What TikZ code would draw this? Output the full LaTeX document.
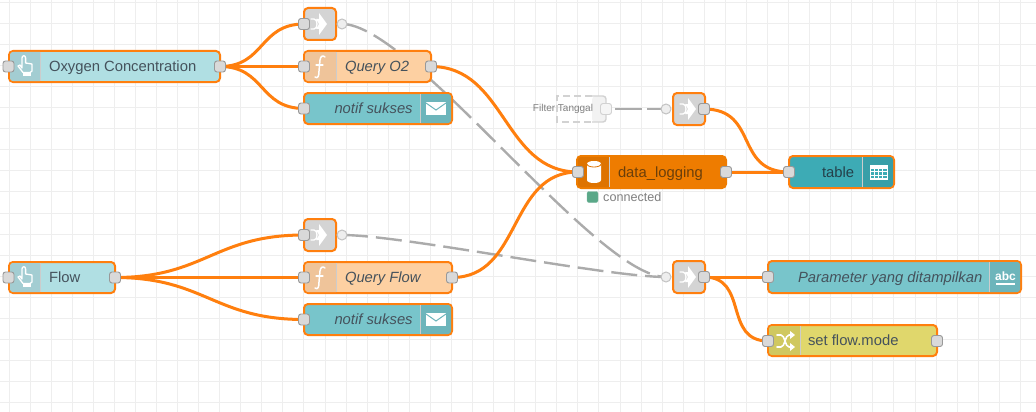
\documentclass[tikz,border=0pt]{standalone}
\usepackage{fontspec}
\setmainfont{Liberation Sans}
\usetikzlibrary{backgrounds}
\definecolor{sel}{HTML}{FF7F0E}
\definecolor{gridc}{HTML}{EEEEEE}
\definecolor{portf}{HTML}{D9D9D9}
\definecolor{portd}{HTML}{999999}
\definecolor{txt}{HTML}{45525C}
\definecolor{btn}{HTML}{B0DFE3}\definecolor{btnd}{HTML}{A3CDD2}
\definecolor{fun}{HTML}{FDD0A2}\definecolor{fund}{HTML}{EFC49A}
\definecolor{noti}{HTML}{78C5CB}\definecolor{notid}{HTML}{6DB5BB}
\definecolor{dbf}{HTML}{EE7C00}\definecolor{dbd}{HTML}{DE7300}
\definecolor{tabf}{HTML}{3DABB5}\definecolor{tabd}{HTML}{389FA8}
\definecolor{setf}{HTML}{E0D76C}\definecolor{setd}{HTML}{D0C860}
\definecolor{lnk}{HTML}{D4D4D4}
\definecolor{statc}{HTML}{5AA888}
\definecolor{dbtxt}{HTML}{6B3F0A}
\definecolor{tbltxt}{HTML}{24404A}
\definecolor{lwc}{HTML}{ABABAB}
\tikzset{
  x=1pt,y=-1pt,
  boxnode/.style={anchor=north west,inner sep=0pt,outer sep=0pt,rounded corners=4pt,draw=sel,line width=2pt,font=\fontsize{14.8}{17}\selectfont,text=txt},
  port/.style={draw=portd,fill=portf,line width=.9pt,rounded corners=2.5pt,minimum size=11pt,inner sep=0pt},
  vport/.style={circle,draw=portd!60,fill=gridc,line width=1pt,minimum size=10pt,inner sep=0pt},
  wire/.style={draw=sel,line width=3pt},
  lwire/.style={draw=lwc,line width=2.4pt,dash pattern=on 26pt off 8pt},
  icon/.style={draw=white,line width=1.3pt,line join=round,line cap=round},
}
% name x1 y1 x2 y2 fill text-offset text
\newcommand\nrbox[8]{%
  \pgfmathsetmacro\nw{#4-#2}\pgfmathsetmacro\nh{#5-#3}%
  \node[boxnode,fill=#6,minimum height=\nh pt] (#1) at (#2,#3)
    {\makebox[\nw pt][l]{\hspace{#7pt}\rule[-4pt]{0pt}{18pt}#8}};}
\newcommand\bandL[5]{%
  \fill[#5] (#3,#2) [rounded corners=3pt] -- (#1,#2) -- (#1,#4) [sharp corners] -- (#3,#4) -- cycle;
  \draw[black!20,line width=.5pt] (#3,#2) -- (#3,#4);}
\newcommand\bandR[5]{%
  \fill[#5] (#1,#2) [rounded corners=3pt] -- (#3,#2) -- (#3,#4) [sharp corners] -- (#1,#4) -- cycle;
  \draw[black!20,line width=.5pt] (#1,#2) -- (#1,#4);}
\tikzset{
 handicon/.pic={
   \draw[icon] (-3,2) -- (-3,-8) .. controls (-3,-11) and (.6,-11) .. (.6,-8) -- (.6,-3) -- (7,-2) -- (7,5) -- (5,6.5) -- (-2,6.5) -- (-7,0) -- (-5,-1) -- cycle;
   \fill[white] (-2,6.5) rectangle (6,10);
 },
 funicon/.pic={
   \draw[icon,line width=1.5pt] (-5,10) .. controls (-2,12) and (-1,9) .. (-1,4) -- (0,-7) .. controls (.5,-11) and (3,-12) .. (5,-10);
   \draw[icon,line width=1.2pt] (-4,-2) -- (3,-2);
 },
 mailicon/.pic={
   \fill[white] (-10,-6.5) rectangle (10,6.5);
   \draw[notid,line width=1pt] (-10,-5.5) -- (0,1.5) -- (10,-5.5);
 },
 linkicon/.pic={
   \draw[icon] (-9,-5) -- (-6,-5) .. controls (-2,-5) and (-2,5) .. (-6,5) -- (-9,5);
   \fill[white] (-1,-11) -- (7,0) -- (-1,11) -- (-1,5) -- (-4,5) -- (-1,0) -- (-4,-5) -- (-1,-5) -- cycle;
 },
 dbicon/.pic={
   \fill[white] (-7,-8) -- (7,-8) -- (7,8) .. controls (7,12) and (-7,12) .. (-7,8) -- cycle;
   \fill[white] (-7,-8) .. controls (-7,-12) and (7,-12) .. (7,-8) -- cycle;
   \draw[dbd,line width=.8pt] (-7,-8) .. controls (-7,-4) and (7,-4) .. (7,-8);
 },
 tableicon/.pic={
   \fill[white] (-9,-7.5) rectangle (9,7.5);
   \foreach \i in {0,1,2,3} \foreach \j in {0,1,2}
     \fill[tabf] (-8+\i*4.1,-3.5+\j*3.6) rectangle +(3.2,2.6);
 },
 shuffleicon/.pic={
   \draw[icon,line width=1.6pt] (-8,-6) -- (-4,-6) .. controls (0,-6) and (0,6) .. (4,6) -- (6,6);
   \draw[icon,line width=1.6pt] (-8,6) -- (-4,6) .. controls (0,6) and (0,-6) .. (4,-6) -- (6,-6);
   \fill[white] (5,-10) -- (10,-6) -- (5,-2) -- cycle;
   \fill[white] (5,2) -- (10,6) -- (5,10) -- cycle;
 },
}
\begin{document}
\begin{tikzpicture}
\useasboundingbox (0,0) rectangle (1036,412);

% ---- nodes ----
\nrbox{oxy}{9}{51}{220}{82}{btn}{40}{Oxygen Concentration}
\nrbox{link1}{304}{8}{336}{40}{lnk}{0}{}
\nrbox{qo}{304}{51}{431}{82}{fun}{41}{\textit{Query O2}}
\nrbox{not1}{304}{93}{452}{124}{noti}{30.5}{\textit{notif sukses}}
\nrbox{linkb}{673}{93}{705}{125}{lnk}{0}{}
\nrbox{dbn}{577}{156}{726}{188}{dbf,draw=dbf}{41}{\textcolor{dbtxt}{data\_logging}}
\nrbox{tbl}{789}{156}{894}{188}{tabf}{33}{\textcolor{tbltxt}{table}}
\nrbox{linkc}{304}{219}{336}{251}{lnk}{0}{}
\nrbox{flw}{9}{262}{115}{293}{btn}{40}{Flow}
\nrbox{qf}{304}{262}{452}{293}{fun}{41}{\textit{Query Flow}}
\nrbox{not2}{304}{304}{452}{335}{noti}{30.5}{\textit{notif sukses}}
\nrbox{linkd}{673}{261}{705}{293}{lnk}{0}{}
\nrbox{par}{768}{261}{1021}{293}{noti}{30}{\textit{Parameter yang ditampilkan}}
\nrbox{setm}{768}{325}{937}{356}{setf}{40}{set flow.mode}

% ---- icon bands ----
\bandL{10}{52}{40}{81}{btnd}
\bandL{305}{52}{336}{81}{fund}
\bandR{420}{94}{451}{123}{notid}
\bandL{578}{157}{609}{187}{dbd}
\bandR{862}{157}{893}{187}{tabd}
\bandL{10}{263}{40}{292}{btnd}
\bandL{305}{263}{336}{292}{fund}
\bandR{420}{305}{451}{334}{notid}
\bandR{989}{262}{1020}{292}{notid}
\bandL{769}{326}{800}{355}{setd}

% ---- icons ----
\pic at (25,66) {handicon};
\pic at (25,277) {handicon};
\pic at (320,24) {linkicon};
\pic at (320,235) {linkicon};
\pic at (689,109) {linkicon};
\pic at (689,277) {linkicon};
\pic at (320,67) {funicon};
\pic at (320,278) {funicon};
\pic at (436,108.5) {mailicon};
\pic at (436,319.5) {mailicon};
\pic at (594,172) {dbicon};
\pic at (879,172) {tableicon};
\pic at (785,341) {shuffleicon};
\node[text=white,font=\bfseries\fontsize{12}{14}\selectfont,inner sep=0pt] (abc) at (1005.5,276) {abc};
\fill[white] (996,283) rectangle (1015,284.5);

% ---- Filter Tanggal ----
\node[anchor=north west,inner sep=0pt,minimum width=14pt,minimum height=26pt,fill=gray!10,rounded corners=3pt] (ftf) at (592,96) {};
\draw[gray!35,line width=1.4pt,rounded corners=3pt] (592,96) -- (606,96) -- (606,122) -- (592,122);
\draw[gray!35,line width=1.4pt,dash pattern=on 7pt off 4pt] (592,96) -- (557,96) -- (557,122) -- (592,122);
\node[text=gray,font=\fontsize{10}{12}\selectfont,inner sep=0pt] (ftx) at (563,109) {Filter Tanggal};

% ---- status ----
\node[fill=statc,draw=statc!80!white,rounded corners=2pt,minimum size=11pt,inner sep=0pt] (stat) at (592.5,197) {};
\node[text=gray,anchor=west,font=\fontsize{12.6}{15}\selectfont,inner sep=0pt] (conn) at (603,197) {connected};

% ---- ports ----
\node[port] (oxy-o) at (220,66.5) {};
\node[port] (oxy-i) at (8.5,66.5) {};
\node[port] (link1-i) at (304,24) {};
\node[vport] (link1-o) at (342,24) {};
\node[port] (qo-i) at (304,66.5) {};
\node[port] (qo-o) at (431,66.5) {};
\node[port] (not1-i) at (304,108.5) {};
\node[port,draw=gray!35,fill=gray!8] (ft-o) at (606,109) {};
\node[vport] (linkb-i) at (666,109) {};
\node[port] (linkb-o) at (704,109) {};
\node[port] (dbn-i) at (578,172) {};
\node[port] (dbn-o) at (726,172) {};
\node[port] (tbl-i) at (789,172) {};
\node[port] (linkc-i) at (304,235) {};
\node[vport] (linkc-o) at (342,235) {};
\node[port] (flw-i) at (8.5,277.5) {};
\node[port] (flw-o) at (115,277.5) {};
\node[port] (qf-i) at (304,277.5) {};
\node[port] (qf-o) at (452,277.5) {};
\node[port] (not2-i) at (304,319.5) {};
\node[vport] (linkd-i) at (666,277) {};
\node[port] (linkd-o) at (704,277) {};
\node[port] (par-i) at (768,277) {};
\node[port] (setm-i) at (768,341) {};
\node[port] (setm-o) at (937,341) {};

\begin{pgfonlayer}{background}
  \fill[white] (0,0) rectangle (1036,412);
  \foreach \k in {0,...,49} \draw[gridc,line width=1pt] (9+21.07*\k,0) -- (9+21.07*\k,412);
  \foreach \k in {0,...,19} \draw[gridc,line width=1pt] (0,2.3+21.07*\k) -- (1036,2.3+21.07*\k);
  % link wires
  \draw[lwire] (link1-o.center) .. controls +(70,0) and +(-70,0) .. (linkd-i.center);
  \draw[lwire] (linkc-o.center) .. controls +(60,0) and +(-60,0) .. (linkd-i.center);
  \draw[draw=lwc,line width=2.4pt,dash pattern=on 0pt off 9pt on 27pt off 5pt on 30pt off 0pt] (ft-o.center) -- (linkb-i.center);
  % wires
  \draw[wire] (oxy-o.center) .. controls +(45,0) and +(-45,0) .. (link1-i.center);
  \draw[wire] (oxy-o.center) -- (qo-i.center);
  \draw[wire] (oxy-o.center) .. controls +(45,0) and +(-45,0) .. (not1-i.center);
  \draw[wire] (flw-o.center) .. controls +(90,0) and +(-90,0) .. (linkc-i.center);
  \draw[wire] (flw-o.center) -- (qf-i.center);
  \draw[wire] (flw-o.center) .. controls +(90,0) and +(-90,0) .. (not2-i.center);
  \draw[wire] (qo-o.center) .. controls +(75,0) and +(-75,0) .. (dbn-i.center);
  \draw[wire] (qf-o.center) .. controls +(70,0) and +(-70,0) .. (dbn-i.center);
  \draw[wire] (dbn-o.center) -- (tbl-i.center);
  \draw[wire] (linkb-o.center) .. controls +(55,0) and +(-55,0) .. (tbl-i.center);
  \draw[wire] (linkd-o.center) -- (par-i.center);
  \draw[wire] (linkd-o.center) .. controls +(45,0) and +(-45,0) .. (setm-i.center);
\end{pgfonlayer}
\end{tikzpicture}
\end{document}
